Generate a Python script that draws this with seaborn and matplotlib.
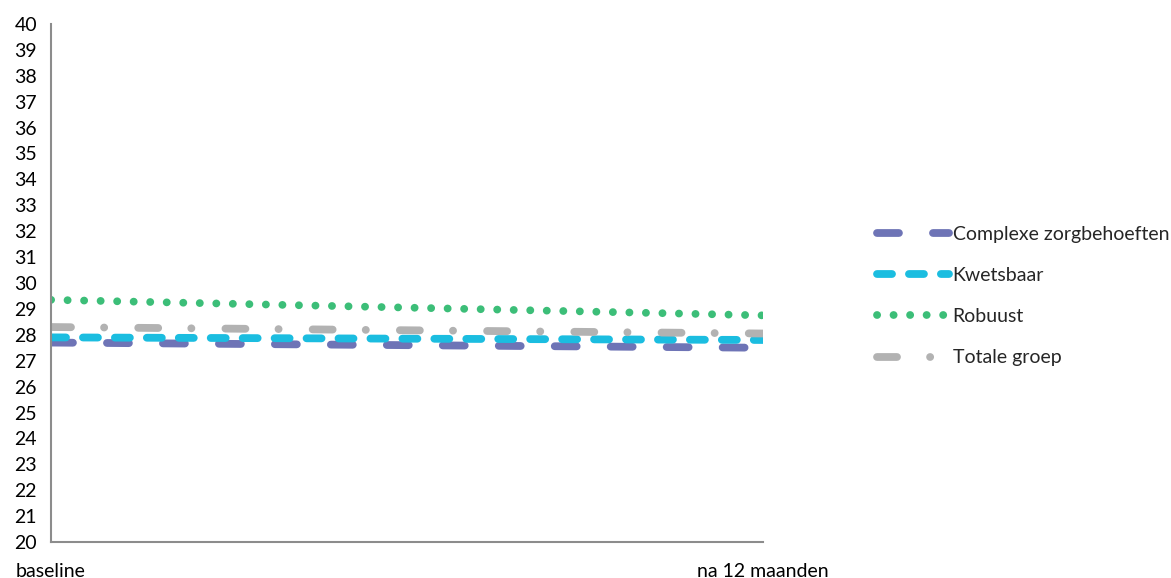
import matplotlib
matplotlib.use("Agg")
import matplotlib.pyplot as plt
import seaborn as sns
import pandas as pd

# ---- data ----
x_labels = ["baseline", "na 12 maanden"]
series_names = ["Complexe zorgbehoeften", "Kwetsbaar", "Robuust", "Totale groep"]
complexe = [27.7, 27.5]
kwetsbaar = [27.9, 27.8]
robuust = [29.35, 28.75]
totale = [28.3, 28.05]
y_ticks = list(range(20, 41))

values = {
    "Complexe zorgbehoeften": complexe,
    "Kwetsbaar": kwetsbaar,
    "Robuust": robuust,
    "Totale groep": totale,
}

colors = {
    "Complexe zorgbehoeften": "#6E74B6",
    "Kwetsbaar": "#1BBDE0",
    "Robuust": "#3CBE78",
    "Totale groep": "#B2B2B2",
}
# dash patterns in points (scale_dashes off)
patterns = {
    "Complexe zorgbehoeften": (0, (15.8, 24.5)),
    "Kwetsbaar": (0, (10.8, 12.2)),
    "Robuust": (0, (0.1, 11.8)),
    "Totale groep": (0, (14.4, 23.8, 0.1, 24.5)),
}

sns.set_theme(style="white")
plt.rcParams["font.family"] = ["Lato", "DejaVu Sans"]
plt.rcParams["lines.scale_dashes"] = False

fig = plt.figure(figsize=(11.71, 5.78), dpi=100)
ax = fig.add_axes([51 / 1171, 1 - 542 / 578, (763 - 51) / 1171, (542 - 24) / 578])

xpos = list(range(len(x_labels)))
for name in series_names:
    df = pd.DataFrame({"x": xpos, "y": values[name]})
    sns.lineplot(data=df, x="x", y="y", ax=ax, color=colors[name],
                 linestyle=patterns[name], linewidth=5.6,
                 dash_capstyle="round", solid_capstyle="round",
                 label=name)

ax.set_xlim(0, 1)
ax.set_ylim(20, 40)
ax.set_yticks(y_ticks)
ax.set_yticklabels([str(t) for t in y_ticks])
ax.set_xticks(xpos)
ax.set_xticklabels(x_labels)
ax.set_xlabel("")
ax.set_ylabel("")

for side in ["top", "right"]:
    ax.spines[side].set_visible(False)
for side in ["left", "bottom"]:
    ax.spines[side].set_color("#8C8C8C")
    ax.spines[side].set_linewidth(1.5)

ax.tick_params(axis="both", which="major", length=5, width=1.5, color="#8C8C8C",
               labelsize=14, labelcolor="#000000", direction="out")
ax.tick_params(axis="x", pad=10)
ax.tick_params(axis="y", pad=5)

leg = ax.legend(loc="center left", bbox_to_anchor=(869 / 1171, 1 - 296 / 578),
                bbox_transform=fig.transFigure, frameon=False, fontsize=14,
                handlelength=3.7, handletextpad=0.2, labelspacing=1.25,
                borderaxespad=0)

fig.savefig("out.png", dpi=100)
